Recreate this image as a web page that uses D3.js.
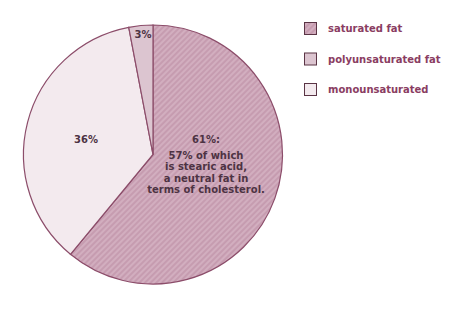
<!DOCTYPE html>
<html lang="en">
<head>
    <meta charset="UTF-8">
    <title>Fat composition</title>
    <script src="https://cdn.jsdelivr.net/npm/d3@7"></script>
    <style>
        body { margin: 0; background: #fff; }
    </style>
</head>
<body>
<svg width="465" height="309" font-family="'DejaVu Sans', Verdana, sans-serif"></svg>
<script>
    // data, in pie order (clockwise from 12 o'clock)
    var categories = ["saturated fat", "monounsaturated", "polyunsaturated fat"];
    var values = [61, 36, 3];
    var sliceLabels = ["61%:", "36%", "3%"];
    var noteLines = ["57% of which", "is stearic acid,", "a neutral fat in", "terms of cholesterol."];
    var legendOrder = ["saturated fat", "polyunsaturated fat", "monounsaturated"];

    var svg = d3.select("svg");
    var cx = 153, cy = 154.5, radius = 129.5;

    var fills = {
        "saturated fat": "url(#stripes)",
        "polyunsaturated fat": "#dcc5d0",
        "monounsaturated": "#f3eaee"
    };

    // diagonal stripe pattern for saturated fat
    var defs = svg.append("defs");
    var pat = defs.append("pattern")
        .attr("id", "stripes")
        .attr("patternUnits", "userSpaceOnUse")
        .attr("width", 4).attr("height", 4)
        .attr("patternTransform", "rotate(45)");
    pat.append("rect").attr("width", 4).attr("height", 4).attr("fill", "#d2aebf");
    pat.append("rect").attr("width", 2).attr("height", 4).attr("fill", "#c69cb0");

    var pie = d3.pie().sort(null).value(d => d.value);
    var arc = d3.arc().innerRadius(0).outerRadius(radius);
    var data = categories.map((c, i) => ({name: c, value: values[i], label: sliceLabels[i]}));
    var arcs = pie(data);

    var g = svg.append("g").attr("transform", "translate(" + cx + "," + cy + ")");
    g.selectAll("path")
        .data(arcs)
        .enter()
        .append("path")
        .attr("d", arc)
        .attr("fill", d => fills[d.data.name])
        .attr("stroke", "#8c4d6a")
        .attr("stroke-width", 1.2);

    // slice labels (offsets from the centre)
    var labelPos = {
        "saturated fat": [53, -12],
        "monounsaturated": [-67, -12],
        "polyunsaturated fat": [-10, -117]
    };
    g.selectAll("text.lbl")
        .data(arcs)
        .enter()
        .append("text")
        .attr("class", "lbl")
        .attr("x", d => labelPos[d.data.name][0])
        .attr("y", d => labelPos[d.data.name][1])
        .attr("text-anchor", "middle")
        .attr("font-size", 10)
        .attr("font-weight", "bold")
        .attr("fill", "#4d3343")
        .text(d => d.data.label);

    g.append("text")
        .attr("text-anchor", "middle")
        .attr("font-size", 10)
        .attr("font-weight", "bold")
        .attr("fill", "#4d3343")
        .selectAll("tspan")
        .data(noteLines)
        .enter()
        .append("tspan")
        .attr("x", 53)
        .attr("y", (d, i) => 4 + i * 11.6)
        .text(d => d);

    // legend
    var legend = svg.append("g").attr("transform", "translate(304,22)");
    var items = legend.selectAll("g")
        .data(legendOrder)
        .enter()
        .append("g")
        .attr("transform", (d, i) => "translate(0," + i * 30.5 + ")");
    items.append("rect")
        .attr("x", 0.5).attr("y", 0.5)
        .attr("width", 12).attr("height", 12)
        .attr("fill", d => fills[d])
        .attr("stroke", "#5a3445")
        .attr("stroke-width", 1);
    items.append("text")
        .attr("x", 24)
        .attr("y", 10)
        .attr("font-size", 10)
        .attr("font-weight", "bold")
        .attr("fill", "#8a3d62")
        .text(d => d);
</script>
</body>
</html>
